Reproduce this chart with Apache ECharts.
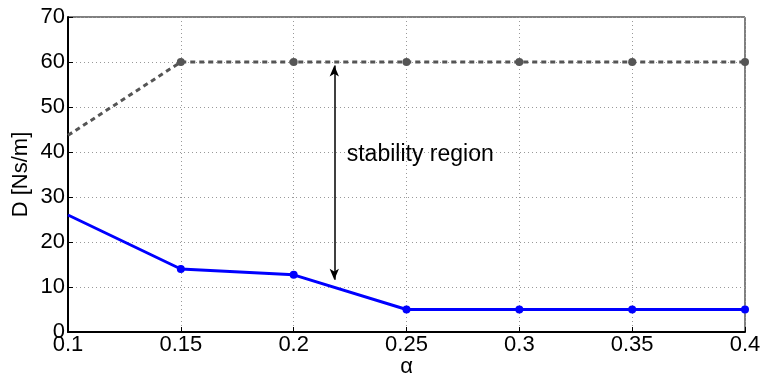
<!DOCTYPE html>
<html>
<head>
<meta charset="utf-8">
<script src="https://cdn.jsdelivr.net/npm/echarts@6/dist/echarts.min.js"></script>
<style>
  html, body { margin: 0; padding: 0; background: #fff; }
  #chart { width: 761px; height: 379px; }
</style>
</head>
<body>
<div id="chart"></div>
<script>
// alpha values
const alphaValues = [0.1, 0.15, 0.2, 0.25, 0.3, 0.35, 0.4];
// lower bound (blue) and upper bound (grey dashed)
const lowerD = [26, 14, 12.7, 5, 5, 5, 5];
const upperD = [43.7, 60, 60, 60, 60, 60, 60];
// annotation
const arrowX = 0.218;
const arrowFrom = 59.2;
const arrowTo = 11.6;
const labelPoint = [0.2235, 39.3];
const labelText = 'stability region';

const font = 'Liberation Sans, Arial, sans-serif';

const toData = (ys) => alphaValues.map((a, i) => {
    const p = { value: [a, ys[i]] };
    if (i === 0) p.symbol = 'none';
    return p;
});

const myChart = echarts.init(document.getElementById('chart'));
let option = {
    animation: false,
    backgroundColor: '#fff',
    grid: {
        left: 68, right: 16, top: 17, bottom: 47,
        outerBoundsMode: 'none',
        containLabel: false,
        show: true, borderColor: '#000', borderWidth: 1
    },
    xAxis: {
        type: 'value',
        min: 0.1, max: 0.4, interval: 0.05,
        name: 'α', nameLocation: 'middle', nameGap: 24, nameMoveOverlap: false,
        nameTextStyle: { fontFamily: font, fontSize: 22, color: '#000' },
        axisLine: { show: true, lineStyle: { color: '#000', width: 2 } },
        axisTick: { show: true, inside: true, length: 5, lineStyle: { color: '#000' } },
        axisLabel: {
            fontFamily: font, fontSize: 22, color: '#000', margin: 2,
            formatter: (v) => String(+v.toFixed(2))
        },
        splitLine: { show: true, lineStyle: { color: '#999', type: [1, 3], width: 1 } }
    },
    yAxis: {
        type: 'value',
        min: 0, max: 70, interval: 10,
        name: 'D [Ns/m]', nameLocation: 'middle', nameGap: 36, nameMoveOverlap: false,
        nameTextStyle: { fontFamily: font, fontSize: 22, color: '#000' },
        axisLine: { show: true, lineStyle: { color: '#000', width: 2 } },
        axisTick: { show: true, inside: true, length: 5, lineStyle: { color: '#000' } },
        axisLabel: { fontFamily: font, fontSize: 22, color: '#000', margin: 3 },
        splitLine: { show: true, lineStyle: { color: '#999', type: [1, 3], width: 1 } }
    },
    series: [
        {
            name: 'upper',
            type: 'line',
            data: toData(upperD),
            symbol: 'circle',
            symbolSize: 8,
            lineStyle: { color: '#555', width: 3, type: [5, 4] },
            itemStyle: { color: '#555' },
            z: 3
        },
        {
            name: 'lower',
            type: 'line',
            data: toData(lowerD),
            symbol: 'circle',
            symbolSize: 8,
            lineStyle: { color: '#0000ff', width: 3 },
            itemStyle: { color: '#0000ff' },
            z: 4,
            markLine: {
                silent: true,
                symbol: ['arrow', 'arrow'],
                symbolSize: [7, 11],
                lineStyle: { color: '#000', width: 1.5, type: 'solid' },
                label: { show: false },
                data: [[{ coord: [arrowX, arrowFrom] }, { coord: [arrowX, arrowTo] }]]
            },
            markPoint: {
                silent: true,
                symbol: 'circle',
                symbolSize: 0,
                label: {
                    show: true, position: 'right', distance: 0,
                    formatter: labelText,
                    fontFamily: font, fontSize: 23, color: '#000'
                },
                data: [{ coord: labelPoint }]
            }
        }
    ]
};
option && myChart.setOption(option);
</script>
</body>
</html>
